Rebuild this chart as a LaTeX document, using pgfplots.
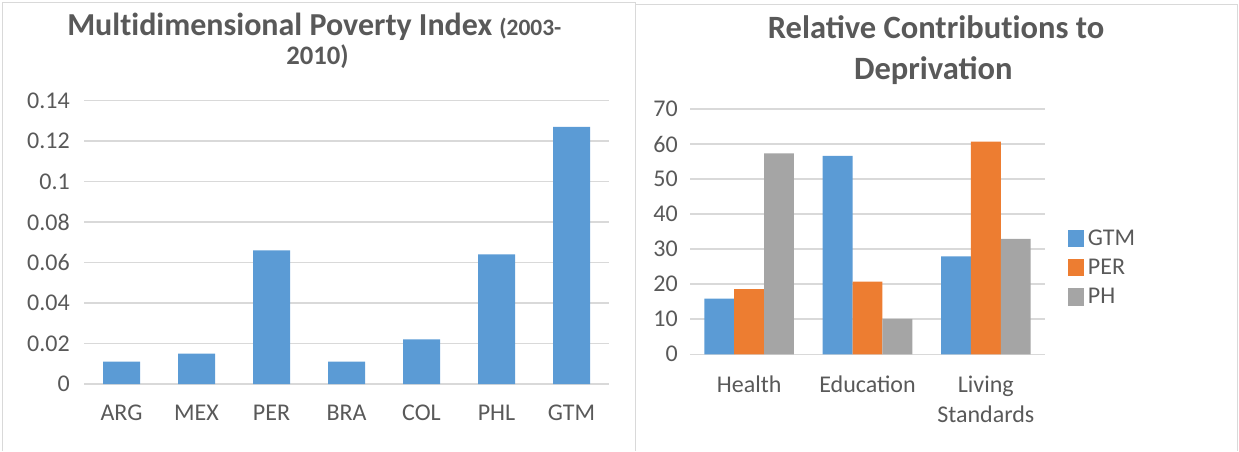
\documentclass[border=0pt]{standalone}
\usepackage{pgfplots}
\pgfplotsset{compat=1.18}
\usepackage{fontspec}
\setmainfont{Carlito}
\newcommand\ti{t\kern0pt i}
\definecolor{cblue}{HTML}{5B9BD5}
\definecolor{corange}{HTML}{ED7D31}
\definecolor{cgray}{HTML}{A5A5A5}
\definecolor{tgray}{HTML}{595959}
\definecolor{gridc}{HTML}{D9D9D9}
\definecolor{borderc}{HTML}{D9D9D9}
\pgfplotsset{
  excel/.style={
    scale only axis,
    anchor=south west,
    axis line style={draw=none},
    major tick length=0pt,
    ymajorgrids,
    grid style={gridc, line width=1.1pt},
    scaled y ticks=false,
    /pgf/number format/assume math mode=true,
    ticklabel style={text=tgray, font=\fontsize{18}{22.5}\selectfont},
    yticklabel style={anchor=east, inner sep=0pt},
    xticklabel style={anchor=north, inner sep=0pt, align=center},
    clip=false,
  }
}
\begin{document}
\begin{tikzpicture}
\path[use as bounding box] (0,0) rectangle (929.25pt,-338.25pt);
\draw[borderc, line width=0.75pt] (1.5pt,-338.25pt) -- (1.5pt,-1.5pt) -- (476.25pt,-1.5pt) -- (476.25pt,-338.25pt);
\draw[borderc, line width=0.75pt] (476.25pt,-3pt) -- (927.75pt,-3pt) -- (927.75pt,-338.25pt);

\node[anchor=base west, inner sep=0pt, text=tgray, font=\bfseries\fontsize{24}{28}\selectfont] at (50.25pt,-26.5pt) {Mul\ti dimensional Poverty Index {\fontsize{17.6}{20}\selectfont (2003-}};
\node[anchor=base west, inner sep=0pt, text=tgray, font=\bfseries\fontsize{20}{24}\selectfont] at (214.5pt,-48.5pt) {2010)};
\node[anchor=base, inner sep=0pt, text=tgray, font=\bfseries\fontsize{24.4}{28}\selectfont] at (702pt,-29.1pt) {Relative Contribu\ti ons to};
\node[anchor=base, inner sep=0pt, text=tgray, font=\bfseries\fontsize{24.4}{28}\selectfont] at (700pt,-59.7pt) {Deprivation};

\begin{axis}[excel,
  at={(63pt,-288pt)},
  width=393.75pt, height=212.5pt,
  ymin=0, ymax=0.14,
  ytick={0,0.02,0.04,0.06,0.08,0.1,0.12,0.14},
  yticklabels={0,0.02,0.04,0.06,0.08,0.1,0.12,0.14},
  yticklabel style={xshift=-10.5pt},
  xmin=-0.5, xmax=6.5,
  xtick={0,1,2,3,4,5,6},
  xticklabels={ARG,MEX,PER,BRA,COL,PHL,GTM},
  xticklabel style={yshift=-15.5pt},
  ybar, bar width=27.75pt,
]
\addplot[fill=cblue, draw=none] coordinates {(0,0.011) (1,0.015) (2,0.066) (3,0.011) (4,0.022) (5,0.064) (6,0.127)};
\end{axis}

\begin{axis}[excel,
  at={(517.5pt,-265.7pt)},
  width=266.25pt, height=184pt,
  ymin=0, ymax=70,
  ytick={0,10,20,30,40,50,60,70},
  yticklabels={0,10,20,30,40,50,60,70},
  yticklabel style={xshift=-9pt},
  xmin=-0.5, xmax=2.5,
  xtick={0,1,2},
  xticklabels={Health,Education,Living\\Standards},
  xticklabel style={yshift=-15.8pt},
  ybar=0pt, bar width=22.4pt,
  legend style={at={(1,0.5)}, anchor=west, xshift=17pt, yshift=-27pt, draw=none, fill=none, inner sep=0pt,
    font=\fontsize{18}{22.5}\selectfont, text=tgray, row sep=9pt,
    nodes={inner sep=0pt, anchor=west}},
  legend cell align=left,
  legend image code/.code={\fill[#1] (0pt,-6.5pt) rectangle (12pt,6.5pt);},
]
\addplot[fill=cblue, draw=none] coordinates {(0,15.9) (1,56.6) (2,27.9)};
\addplot[fill=corange, draw=none] coordinates {(0,18.6) (1,20.7) (2,60.7)};
\addplot[fill=cgray, draw=none] coordinates {(0,57.3) (1,10.1) (2,32.9)};
\legend{\hspace{3pt}GTM,\hspace{3pt}PER,\hspace{3pt}PH}
\end{axis}
\end{tikzpicture}
\end{document}
